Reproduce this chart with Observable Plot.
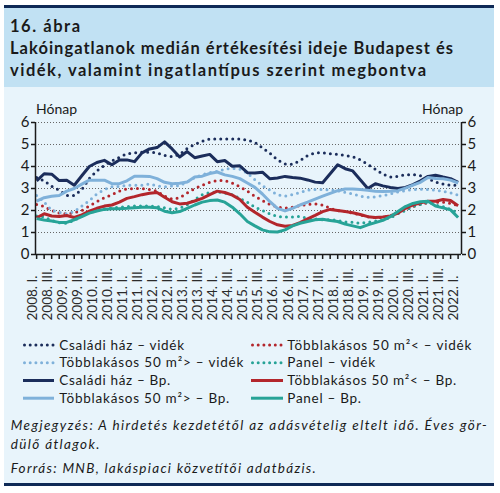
<!DOCTYPE html>
<html><head><meta charset="utf-8">
<script src="https://cdn.jsdelivr.net/npm/d3@7"></script>
<script src="https://cdn.jsdelivr.net/npm/@observablehq/plot@0.6"></script>
<style>
body{margin:0;background:#fff;font-family:Lato,"Open Sans",sans-serif;}
#root{position:relative;width:500px;height:493px;overflow:hidden;}
#bg{position:absolute;left:0;top:0;}
#chart{position:absolute;left:0;top:100px;}
</style></head>
<body><div id="root"><svg id="bg" width="500" height="493"></svg><div id="chart"></div></div>
<script>
// ---- data (quarterly, 2008 Q1 – 2022 Q1), months ----
const xLabels = ["2008. I.","2008. III.","2009. I.","2009. III.","2010. I.","2010. III.","2011. I.","2011. III.",
  "2012. I.","2012. III.","2013. I.","2013. III.","2014. I.","2014. III.","2015. I.","2015. III.","2016. I.",
  "2016. III.","2017. I.","2017. III.","2018. I.","2018. III.","2019. I.","2019. III.","2020. I.","2020. III.",
  "2021. I.","2021. III.","2022. I."];
const yTicks = [0, 1, 2, 3, 4, 5, 6];
const gridVals = [1, 2, 3, 4, 5, 6];

const csaladiVidek = [3.5,3.35,3.1,2.92,2.68,2.68,2.95,3.45,3.8,4.05,4.25,4.42,4.58,4.62,4.65,4.65,4.62,4.5,4.45,4.55,
  4.82,5.0,5.15,5.25,5.25,5.25,5.25,5.25,5.2,5.1,4.85,4.6,4.3,4.12,4.1,4.27,4.5,4.62,4.62,4.58,
  4.55,4.5,4.45,4.3,4.1,3.88,3.65,3.52,3.55,3.63,3.63,3.58,3.45,3.3,3.2,3.15,3.15];
const kisLakVidek = [2.68,2.38,2.0,1.92,1.85,1.95,2.2,2.45,2.75,2.95,3.08,3.1,3.15,3.15,3.15,3.2,3.12,3.08,3.12,3.12,
  3.3,3.5,3.62,3.72,3.78,3.88,3.92,3.88,3.7,3.4,3.12,2.92,2.72,2.65,2.72,2.82,2.92,2.96,2.96,2.93,
  2.9,2.82,2.75,2.65,2.6,2.62,2.68,2.75,2.85,2.9,2.95,2.97,2.95,2.92,2.88,2.8,2.7];
const csaladiBp = [3.35,3.67,3.65,3.36,3.37,3.15,3.58,4.0,4.18,4.28,4.08,4.3,4.3,4.22,4.62,4.8,4.86,5.12,4.8,4.43,
  4.68,4.4,4.48,4.55,4.22,4.27,4.01,4.03,3.72,3.7,3.74,3.44,3.48,3.55,3.5,3.47,3.39,3.29,3.26,3.67,
  4.08,3.9,3.8,3.4,3.0,3.22,3.12,3.05,3.0,3.05,3.18,3.35,3.55,3.6,3.52,3.45,3.28];
const kisLakBp = [2.43,2.58,2.65,2.68,2.88,3.0,3.2,3.38,3.38,3.38,3.22,3.22,3.35,3.56,3.56,3.55,3.45,3.28,3.22,3.24,
  3.3,3.52,3.56,3.68,3.75,3.62,3.55,3.45,3.25,3.05,2.75,2.4,2.1,1.98,2.1,2.25,2.38,2.52,2.65,2.78,
  2.9,2.98,2.98,2.95,2.92,2.88,2.86,2.87,2.9,3.02,3.15,3.28,3.5,3.45,3.44,3.38,3.25];
const nagyLakVidek = [2.27,2.18,2.0,1.88,1.85,1.9,2.0,2.2,2.4,2.58,2.72,2.88,2.98,3.0,3.0,2.95,2.88,2.65,2.52,2.58,
  2.8,3.0,3.15,3.28,3.36,3.36,3.25,3.08,2.88,2.65,2.45,2.28,2.15,2.1,2.15,2.22,2.28,2.3,2.25,2.1,
  2.0,1.95,1.88,1.8,1.72,1.68,1.68,1.75,1.9,2.05,2.18,2.28,2.35,2.38,2.38,2.32,2.22];
const panelVidek = [1.75,1.7,1.55,1.45,1.42,1.55,1.75,1.9,2.0,2.08,2.12,2.15,2.18,2.2,2.2,2.2,2.18,2.12,2.05,2.1,
  2.25,2.5,2.72,2.82,2.84,2.8,2.72,2.55,2.38,2.15,2.0,1.85,1.73,1.7,1.7,1.73,1.65,1.62,1.58,1.58,
  1.55,1.48,1.47,1.42,1.46,1.52,1.58,1.67,1.85,2.0,2.18,2.27,2.38,2.25,2.18,2.05,1.88];
const nagyLakBp = [1.67,1.85,1.75,1.73,1.77,1.68,1.8,1.97,2.1,2.2,2.25,2.38,2.55,2.63,2.72,2.78,2.82,2.6,2.4,2.3,
  2.33,2.43,2.55,2.72,2.88,2.82,2.7,2.5,2.15,1.92,1.7,1.5,1.35,1.28,1.32,1.45,1.62,1.78,1.95,2.05,
  2.0,1.95,1.9,1.82,1.72,1.68,1.7,1.75,1.88,2.1,2.25,2.35,2.42,2.42,2.5,2.45,2.22];
const panelBp = [1.63,1.57,1.52,1.46,1.46,1.58,1.72,1.88,1.98,2.05,2.08,2.08,2.1,2.13,2.15,2.15,2.12,1.97,1.9,1.95,
  2.1,2.25,2.38,2.45,2.48,2.38,2.15,1.85,1.5,1.3,1.12,1.03,1.02,1.12,1.3,1.42,1.5,1.58,1.6,1.55,
  1.5,1.38,1.3,1.22,1.35,1.45,1.55,1.72,1.95,2.18,2.32,2.4,2.42,2.2,2.12,2.03,1.68];

const seriesNames = ["Családi ház – vidék","Többlakásos 50 m²< – vidék","Többlakásos 50 m²> – vidék","Panel – vidék",
  "Családi ház – Bp.","Többlakásos 50 m²< – Bp.","Többlakásos 50 m²> – Bp.","Panel – Bp."];
const seriesValues = [csaladiVidek, nagyLakVidek, kisLakVidek, panelVidek, csaladiBp, nagyLakBp, kisLakBp, panelBp];
const seriesColors = ["#1b2d5b","#b3262c","#7fb1da","#27a397","#1b2d5b","#b3262c","#7fb1da","#27a397"];
const seriesDotted = [true,true,true,true,false,false,false,false];

// ---- background, titles, legend, notes ----
const NS = "http://www.w3.org/2000/svg";
const bg = document.getElementById("bg");
function el(tag, attrs, text) {
  const e = document.createElementNS(NS, tag);
  for (const k in attrs) e.setAttribute(k, attrs[k]);
  if (text != null) e.textContent = text;
  bg.appendChild(e); return e;
}
el("rect", {x:4, y:6, width:490, height:480, fill:"#e8f4fb"});
el("rect", {x:4, y:8, width:490, height:79, fill:"#c1e1f3"});
el("rect", {x:4, y:5, width:490, height:3, fill:"#0f2a56"});
el("rect", {x:4, y:483, width:490, height:3, fill:"#0f2a56"});
const titleStyle = {"font-family":"Lato","font-weight":"bold","font-size":"16.5px",fill:"#1a1a1a","lengthAdjust":"spacing"};
el("text", {...titleStyle, x:10, y:32, textLength:70}, "16. ábra");
el("text", {...titleStyle, x:10, y:54, textLength:443}, "Lakóingatlanok medián értékesítési ideje Budapest és");
el("text", {...titleStyle, x:10, y:76, textLength:416}, "vidék, valamint ingatlantípus szerint megbontva");
const smallStyle = {"font-family":"Lato","font-size":"14px",fill:"#1a1a1a"};
el("text", {...smallStyle, x:36, y:114}, "Hónap");
el("text", {...smallStyle, x:463, y:114, "text-anchor":"end"}, "Hónap");

// legend: order as in reference (two columns, four rows)
const legendOrder = [0,1,2,3,4,5,6,7];
const legendRowsY = [345, 362.8, 380.5, 398.2];
const legendWidths = [124.7,184,184,87.7,111,169,170,73.7];
legendOrder.forEach((s, k) => {
  const row = Math.floor(k / 2), col = k % 2;
  const yc = legendRowsY[row];
  const x0 = col === 0 ? 23 : 251, x1 = col === 0 ? 54 : 283, tx = col === 0 ? 59.3 : 287.3;
  const ln = {x1: x0 + (seriesDotted[s] ? 1.5 : 0), x2: x1, y1: yc, y2: yc, stroke: seriesColors[s], "stroke-width": 3};
  if (seriesDotted[s]) { ln["stroke-dasharray"] = "0 5.7"; ln["stroke-linecap"] = "round"; }
  el("line", ln);
  el("text", {"font-family":"Lato","font-size":"13.5px",fill:"#1a1a1a",x:tx,y:yc+4.6,textLength:legendWidths[s],lengthAdjust:"spacing"}, seriesNames[s]);
});
const noteStyle = {"font-family":"Lato","font-style":"italic","font-size":"13.5px",fill:"#1a1a1a",lengthAdjust:"spacing"};
el("text", {...noteStyle, x:10.7, y:430, textLength:476}, "Megjegyzés: A hirdetés kezdetétől az adásvételig eltelt idő. Éves gör-");
el("text", {...noteStyle, x:10.7, y:449, textLength:88.7}, "dülő átlagok.");
el("text", {...noteStyle, x:10.7, y:473, textLength:305}, "Forrás: MNB, lakáspiaci közvetítői adatbázis.");

// ---- chart ----
const rows = [];
seriesValues.forEach((vals, s) => vals.forEach((v, i) => rows.push({s, i, v})));
const quarterIdx = d3.range(csaladiBp.length);
const labelData = xLabels.map((t, k) => ({i: k * 2, t}));

const lineMarks = [];
for (let s = 0; s < seriesValues.length; s++) {
  const data = rows.filter(r => r.s === s);
  lineMarks.push(Plot.lineY(data, {
    x: "i", y: "v", stroke: seriesColors[s], strokeWidth: 3,
    strokeDasharray: seriesDotted[s] ? "0 6" : null,
    strokeLinecap: seriesDotted[s] ? "round" : "butt",
    strokeLinejoin: "round"
  }));
}

const chart = Plot.plot({
  width: 500, height: 230,
  marginTop: 22, marginBottom: 76, marginLeft: 35, marginRight: 39,
  style: {background: "transparent", fontFamily: "Lato", fontSize: "15px", color: "#1a1a1a"},
  x: {domain: [-0.15, 56.45], axis: null},
  y: {domain: [0, 6], axis: null},
  marks: [
    Plot.ruleY(gridVals, {stroke: "#666", strokeDasharray: "1 2", strokeWidth: 1}),
    ...lineMarks,
    Plot.ruleY([0], {stroke: "#1a1a1a", strokeWidth: 1.5}),
    Plot.ruleX([-0.15, 56.45], {y1: 0, y2: 6, stroke: "#1a1a1a", strokeWidth: 1.5}),
    Plot.axisY({anchor: "left", ticks: yTicks, tickFormat: d => String(d), tickSize: 4, tickPadding: 2, label: null, fontSize: 15, strokeWidth: 1.5}),
    Plot.axisY({anchor: "right", ticks: yTicks, tickFormat: d => String(d), tickSize: 4, tickPadding: 2, label: null, fontSize: 15, strokeWidth: 1.5}),
    Plot.axisX({ticks: quarterIdx, tickSize: 5, tickFormat: () => "", label: null, strokeWidth: 1.5}),
    Plot.text(labelData, {x: "i", text: "t", frameAnchor: "bottom", rotate: -90, textAnchor: "start",
      dy: 66, fontSize: 13.5, fill: "#2a2a2a"})
  ]
});
document.getElementById("chart").appendChild(chart);
</script>
</body></html>
